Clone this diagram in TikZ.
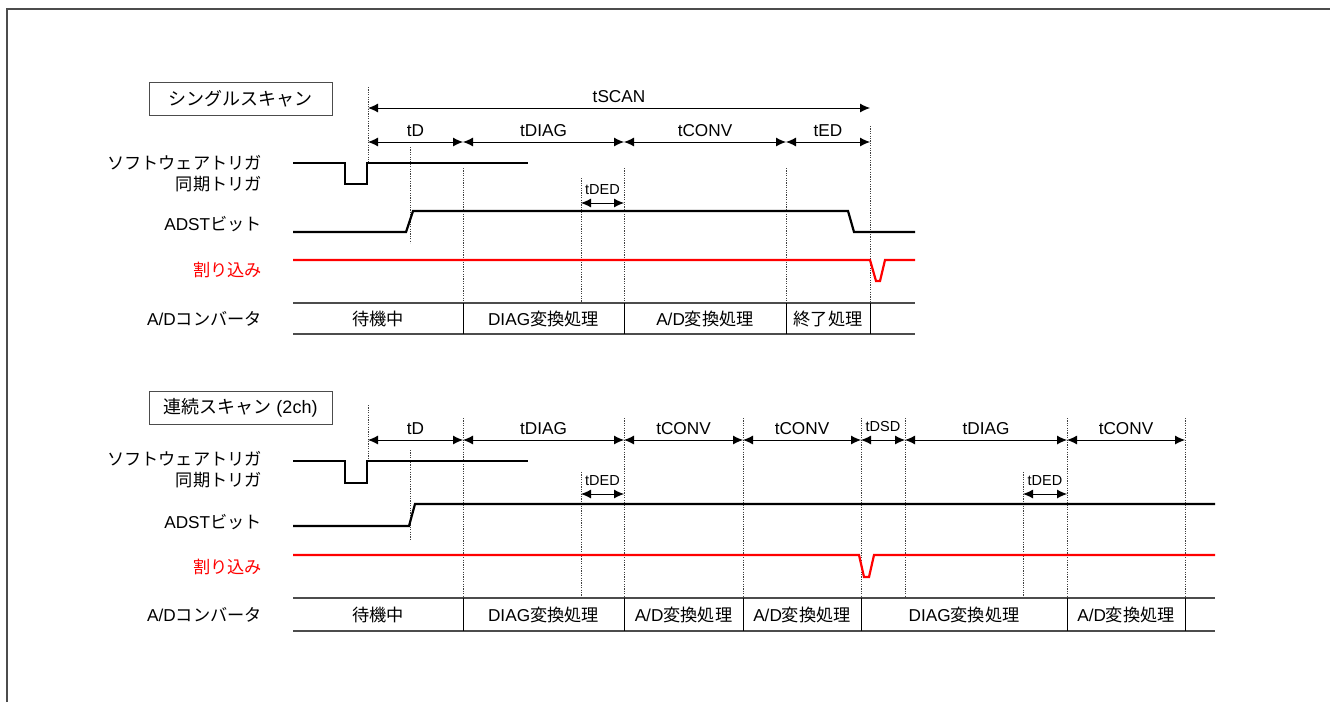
\documentclass[tikz,border=0pt]{standalone}
\usepackage{fontspec}
\setmainfont{Liberation Sans}
\newfontfamily\jp{Noto Sans CJK JP}
\usetikzlibrary{arrows.meta}

\begin{document}
\begin{tikzpicture}[
    x=1pt, y=-1pt,
    font=\fontsize{17.2}{20}\selectfont,
    % signal lines
    sig/.style={line width=2.2pt, line join=miter},
    irq/.style={line width=2.2pt, red, line join=miter},
    row/.style={line width=1.4pt, black!70},
    sep/.style={line width=0.9pt},
    guide/.style={line width=0.7pt, black!75, dash pattern=on 1.2pt off 1.2pt},
    dim/.style={{Latex[length=10pt,width=9pt]}-{Latex[length=10pt,width=9pt]}, line width=0.9pt},
    dimlbl/.style={above=4pt, inner sep=1pt},
    small/.style={font=\fontsize{14.5}{16}\selectfont},
    lbl/.style={anchor=east, inner sep=0pt},
    titlebox/.style={draw=black!70, line width=0.9pt, minimum width=183pt, minimum height=33pt, inner sep=0pt, font=\fontsize{18}{20}\selectfont},
]
\useasboundingbox (0,0) rectangle (1330,702);

% frame
\draw[line width=2pt, black!70] (7,702) -- (7,9) -- (1330,9);

% =========================================================
% Top panel: single scan
% =========================================================
\node[titlebox] (boxS) at (240.5,98.5) {\jp シングルスキャン};

% signal names
\node[lbl] (swS) at (262,163) {\jp ソフトウェアトリガ};
\node[lbl] (syS) at (262,184) {\jp 同期トリガ};
\node[lbl] (adS) at (262,224) {ADST{\jp ビット}};
\node[lbl, text=red] (irS) at (262,270) {\jp 割り込み};
\node[lbl] (cvS) at (262,319) {A/D{\jp コンバータ}};

% guides
\foreach \x/\ya/\yb in {368/87/163, 410/147/243, 463/168/303, 581/178/303,
                         624/168/303, 786/168/303, 870/126/303}
  \draw[guide] (\x,\ya) -- (\x,\yb);

% waveforms
\draw[sig] (293,163) -- (345,163) -- (345,184) -- (367,184) -- (367,163) -- (528,163);
\draw[sig] (293,232) -- (406,232) -- (413,211) -- (848,211) -- (854,232) -- (915,232);
\draw[irq] (293,260) -- (870,260) -- (876,281) -- (880,281) -- (885,260) -- (915,260);

% converter row
\draw[row] (293,303) -- (915,303);
\draw[row] (293,334) -- (915,334);
\foreach \x in {463,624,786,870}
  \draw[sep] (\x,303) -- (\x,334);
\node (cvS1) at (378,319) {\jp 待機中};
\node (cvS2) at (543.5,319) {DIAG{\jp 変換処理}};
\node (cvS3) at (705,319) {A/D{\jp 変換処理}};
\node (cvS4) at (828,319) {\jp 終了処理};

% timing marks
\coordinate (sa) at (368,108);
\coordinate (sb) at (870,108);
\foreach \n/\x in {0/368, 1/463, 2/624, 3/786, 4/870}
  \coordinate (p\n) at (\x,142);
\coordinate (q0) at (581,203);
\coordinate (q1) at (624,203);

\draw[dim] (sa) -- node[dimlbl] (lScan) {tSCAN} (sb);
\draw[dim] (p0) -- node[dimlbl] (lD) {tD} (p1);
\draw[dim] (p1) -- node[dimlbl] (lDiag) {tDIAG} (p2);
\draw[dim] (p2) -- node[dimlbl] (lConv) {tCONV} (p3);
\draw[dim] (p3) -- node[dimlbl] (lEd) {tED} (p4);
\draw[dim] (q0) -- node[dimlbl, small, above=3pt] (lDed) {tDED} (q1);

% =========================================================
% Bottom panel: continuous scan (2ch)
% =========================================================
\node[titlebox] (boxC) at (240.5,408) {{\jp 連続スキャン} (2ch)};

% signal names
\node[lbl] (swC) at (262,459) {\jp ソフトウェアトリガ};
\node[lbl] (syC) at (262,480) {\jp 同期トリガ};
\node[lbl] (adC) at (262,522) {ADST{\jp ビット}};
\node[lbl, text=red] (irC) at (262,567) {\jp 割り込み};
\node[lbl] (cvC) at (262,615) {A/D{\jp コンバータ}};

% guides
\foreach \x/\ya/\yb in {368/405/461, 410/450/539, 463/418/598, 624/418/598,
                         743/418/598, 861/418/598, 905/418/598, 1067/418/598,
                         1185/418/598, 581/472/598, 1023/472/598}
  \draw[guide] (\x,\ya) -- (\x,\yb);

% waveforms
\draw[sig] (293,461) -- (345,461) -- (345,483) -- (367,483) -- (367,461) -- (528,461);
\draw[sig] (293,526) -- (409,526) -- (415,504) -- (1215,504);
\draw[irq] (293,555) -- (859,555) -- (864,577) -- (869,577) -- (874,555) -- (1215,555);

% converter row
\draw[row] (293,598) -- (1215,598);
\draw[row] (293,631) -- (1215,631);
\foreach \x in {463,624,743,861,1067,1185}
  \draw[sep] (\x,598) -- (\x,631);
\node (cvC1) at (378,615) {\jp 待機中};
\node (cvC2) at (543.5,615) {DIAG{\jp 変換処理}};
\node (cvC3) at (683.5,615) {A/D{\jp 変換処理}};
\node (cvC4) at (802,615) {A/D{\jp 変換処理}};
\node (cvC5) at (964,615) {DIAG{\jp 変換処理}};
\node (cvC6) at (1126,615) {A/D{\jp 変換処理}};

% timing marks
\foreach \n/\x in {0/368, 1/463, 2/624, 3/743, 4/861, 5/905, 6/1067, 7/1185}
  \coordinate (m\n) at (\x,440);
\foreach \n/\x in {0/581, 1/624, 2/1023, 3/1067}
  \coordinate (e\n) at (\x,494);

\draw[dim] (m0) -- node[dimlbl] (kD) {tD} (m1);
\draw[dim] (m1) -- node[dimlbl] (kDiag1) {tDIAG} (m2);
\draw[dim] (m2) -- node[dimlbl] (kConv1) {tCONV} (m3);
\draw[dim] (m3) -- node[dimlbl] (kConv2) {tCONV} (m4);
\draw[dim] (m4) -- node[dimlbl, small, above=3pt] (kDsd) {tDSD} (m5);
\draw[dim] (m5) -- node[dimlbl] (kDiag2) {tDIAG} (m6);
\draw[dim] (m6) -- node[dimlbl] (kConv3) {tCONV} (m7);
\draw[dim] (e0) -- node[dimlbl, small, above=3pt] (kDed1) {tDED} (e1);
\draw[dim] (e2) -- node[dimlbl, small, above=3pt] (kDed2) {tDED} (e3);

\end{tikzpicture}
\end{document}
